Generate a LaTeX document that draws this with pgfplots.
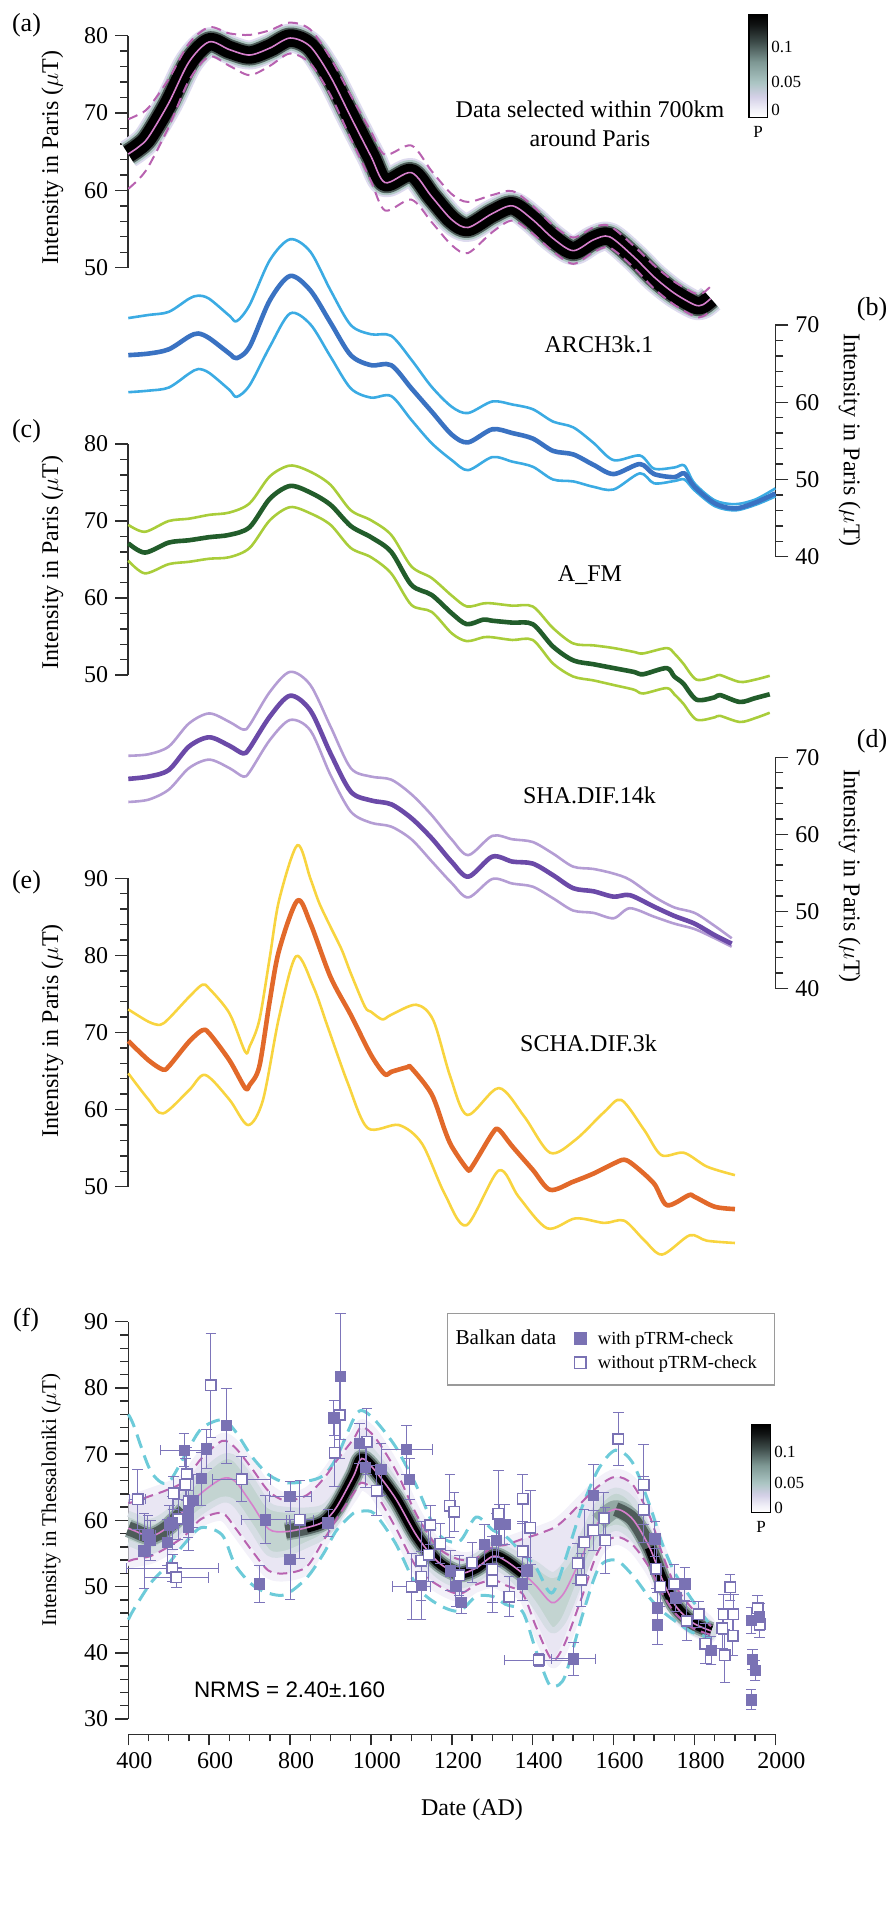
\documentclass[border=0pt]{standalone}
\usepackage{pgfplots}
\usepackage{pgfplotstable}
\pgfplotsset{compat=1.18}
\usepackage{fontspec}
\setmainfont{Liberation Serif}
\newfontfamily\sansfont{Liberation Sans}

\definecolor{axc}{HTML}{2E2E2E}
\definecolor{pinkm}{HTML}{D67FCC}
\definecolor{magd}{HTML}{B862B0}
\definecolor{cyand}{HTML}{6DCBD9}
\definecolor{dlav}{HTML}{DEDBEF}
\definecolor{dteal}{HTML}{AFC6C3}
\definecolor{dgrey}{HTML}{4E5C59}
\definecolor{flav}{HTML}{E9E6F3}
\definecolor{flavE}{HTML}{F3F1F9}
\definecolor{fteal}{HTML}{C3D4D1}
\definecolor{ftealE}{HTML}{D6DDE4}
\definecolor{fmid}{HTML}{93A8A4}
\definecolor{archL}{HTML}{3BABE3}
\definecolor{archD}{HTML}{3A72C2}
\definecolor{afmL}{HTML}{A9CD3A}
\definecolor{afmD}{HTML}{225D2B}
\definecolor{shaL}{HTML}{B49DD4}
\definecolor{shaD}{HTML}{6B4AA8}
\definecolor{schaL}{HTML}{F8D43F}
\definecolor{schaD}{HTML}{E2692A}
\definecolor{ptc}{HTML}{7A72B4}
\definecolor{errc}{HTML}{7D75BA}
\definecolor{legb}{HTML}{9A9A9A}
\definecolor{cb1}{HTML}{F1F0F8}
\definecolor{cb2}{HTML}{D4D0E7}
\definecolor{cb3}{HTML}{ABC5C3}
\definecolor{cb4}{HTML}{7E9894}
\definecolor{cb5}{HTML}{3C4A48}
\definecolor{cb6}{HTML}{121515}

\pgfdeclareverticalshading{pdens}{100bp}{color(0bp)=(white); color(25bp)=(white); color(29bp)=(cb1); color(35bp)=(cb2); color(42bp)=(cb3); color(52bp)=(cb4); color(62bp)=(cb5); color(70bp)=(cb6); color(75bp)=(black); color(100bp)=(black)}

% (a) density model, Paris
\pgfplotstableread{
yr   m    u    l
400  64.7 69.2 60.2
425  65.6 69.8 61.4
450  66.9 70.7 63.1
500  71.3 74.4 68.2
550  76.6 79.0 74.2
600  79.2 81.1 77.3
650  78.2 80.3 76.1
700  77.5 80.1 74.9
750  78.4 80.7 76.1
800  79.7 81.7 77.7
850  78.6 80.8 76.4
900  74.7 77.1 72.3
950  69.5 72.3 66.7
1000 64.4 67.6 61.2
1035 61.0 64.6 57.4
1100 62.3 65.8 58.8
1150 59.2 62.5 55.9
1200 56.2 59.5 52.9
1240 55.2 58.5 51.9
1300 57.0 59.4 54.6
1350 58.0 59.9 56.1
1400 56.2 58.0 54.4
1450 53.8 55.5 52.1
1500 52.2 53.9 50.5
1550 53.6 55.2 52.0
1590 54.0 55.4 52.6
1650 51.4 52.8 50.0
1700 48.8 50.3 47.3
1750 46.7 48.2 45.2
1800 45.2 46.7 43.7
1820 45.2 46.7 43.7
1840 46.0 47.6 44.4
}\tabA

% (b) ARCH3k.1
\pgfplotstableread{
yr   m     u     l
400  66.1  70.9  61.3
450  66.3  71.3  61.5
500  66.85 71.7  61.9
550  68.5  73.4  63.7
573  68.9  73.8  64.3
600  68.3  73.4  63.8
650  66.3  71.2  61.6
668  65.7  70.5  60.7
700  67.2  72.6  62.2
750  73.2  78.4  67.2
800  76.35 81.1  71.5
850  74.5  79.5  70.1
900  70.3  74.5  65.9
950  66.1  70.0  61.8
1000 64.8  68.8  60.6
1050 64.8  68.6  60.8
1100 61.8  65.5  57.7
1150 58.8  62.0  54.7
1200 55.8  59.4  52.5
1240 54.8  58.6  51.2
1300 56.5  60.1  52.9
1350 56.0  59.7  52.3
1400 55.3  59.1  51.65
1450 53.7  57.5  50.0
1500 53.25 56.75 49.75
1550 51.9  54.75 49.05
1600 50.7  52.5  48.7
1665 52.0  53.1  50.8
1700 50.7  51.4  49.5
1750 50.3  51.55 49.8
1775 50.8  51.8  50.0
1800 49.05 49.5  48.6
1850 46.9  47.3  46.55
1900 46.25 46.8  46.0
1950 47.0  47.4  46.7
2000 48.2  48.85 47.8
}\tabB

% (c) A_FM
\pgfplotstableread{
yr   m     u     l
400  67.1  69.5  64.85
441  65.9  68.6  63.2
500  67.2  70.0  64.4
550  67.5  70.3  64.7
600  67.9  70.8  65.1
650  68.2  71.1  65.3
700  69.2  72.3  66.5
750  72.9  75.8  70.1
800  74.55 77.2  71.8
850  73.7  76.4  71.0
900  72.1  74.7  69.5
950  69.35 71.4  66.5
1000 67.9  70.1  65.3
1050 66.0  68.2  63.2
1100 61.7  64.1  59.1
1150 60.4  62.6  58.2
1200 58.0  60.3  55.4
1237 56.6  58.9  54.4
1278 57.2  59.3  54.9
1300 57.05 59.3  54.9
1350 56.8  59.0  54.55
1400 56.6  58.9  54.55
1450 53.7  56.1  51.5
1500 51.9  54.1  49.8
1550 51.4  53.85 49.3
1600 50.9  53.5  48.7
1650 50.4  53.0  48.1
1673 50.1  52.8  47.6
1731 50.9  53.5  48.3
1750 49.8  52.8  47.5
1772 48.9  51.5  46.3
1805 46.8  49.4  44.2
1850 47.1  49.8  44.5
1863 47.4  50.0  44.7
1912 46.5  49.1  43.9
1950 47.0  49.4  44.4
1986 47.5  49.9  45.1
}\tabC

% (d) SHA.DIF.14k
\pgfplotstableread{
yr   m     u     l
400  67.2  70.2  64.2
450  67.5  70.4  64.5
500  68.35 71.4  65.8
550  71.4  74.4  68.6
600  72.6  75.7  69.7
650  71.5  74.6  68.6
684  70.5  73.6  67.5
700  71.2  74.2  68.1
750  75.3  78.5  72.25
800  78.0  81.1  74.85
850  76.1  79.4  73.5
900  70.5  74.0  67.7
950  65.55 68.6  62.95
1000 64.4  67.5  61.5
1050 63.9  67.1  61.0
1100 62.1  65.2  59.35
1150 59.5  62.5  56.5
1200 56.4  59.3  53.65
1241 54.5  57.3  51.8
1300 57.1  59.8  54.2
1350 56.45 59.35 53.6
1400 56.2  59.0  53.2
1450 54.7  57.5  51.7
1500 53.0  55.8  50.1
1550 52.6  55.5  49.8
1600 51.9  54.9  49.1
1640 52.1  54.1  50.4
1700 50.6  51.9  49.3
1750 49.4  50.5  48.4
1800 48.4  49.8  47.7
1850 46.9  48.1  46.5
1892 45.8  46.5  45.4
}\tabD

% (e) SCHA.DIF.3k
\pgfplotstableread{
yr   m
400  68.9
450  66.4
485  65.2
500  65.6
550  68.8
583  70.3
600  69.9
650  66.4
689  62.8
700  63.2
724  65.6
750  74.2
773  80.7
818  87.1
850  84.2
900  77.2
950  72.3
1000 67.1
1034 64.6
1050 64.9
1090 65.5
1100 65.4
1150 62.0
1182 57.4
1200 55.2
1238 52.3
1250 52.6
1300 56.9
1316 57.4
1350 55.2
1400 52.2
1443 49.6
1500 50.65
1550 51.7
1600 53.0
1626 53.5
1650 52.8
1700 50.4
1732 47.6
1786 48.9
1800 48.7
1850 47.4
1900 47.1
}\tabEm
\pgfplotstableread{
yr   u
400  73.0
450  71.4
479  71.0
500  71.8
550  74.6
583  76.2
600  75.7
650  72.5
689  67.5
700  68.2
724  71.6
750  79.8
773  87.2
818  94.3
850  90.0
872  86.8
900  83.7
928  80.7
950  77.7
985  73.35
1000 72.7
1028 71.7
1050 72.3
1112 73.6
1154 71.6
1196 64.3
1238 59.3
1316 62.8
1379 59.1
1443 54.4
1506 56.1
1577 59.7
1619 61.25
1675 57.4
1718 54.1
1774 54.4
1831 52.6
1900 51.5
}\tabEu
\pgfplotstableread{
yr   l
400  64.7
450  61.3
486  59.5
550  62.5
590  64.5
650  61.3
696  58.0
733  61.25
773  72.05
815  79.9
858  75.9
893  70.75
943  63.4
992  57.6
1069 58.0
1126 55.6
1182 49.1
1236 45.0
1316 52.1
1365 48.7
1436 44.6
1506 45.9
1577 45.3
1626 45.6
1675 43.1
1720 41.2
1788 43.7
1830 43.0
1900 42.7
}\tabEl

% (f) Thessaloniki model: mean, 95% band (magenta), outer envelope (cyan)
\pgfplotstableread{
yr   m     mu    ml    cu    cl
400  58.8  62.6  53.8  76.0  45.0
413  58.5  62.8  54.1  74.4  46.5
455  57.6  63.7  54.6  67.5  50.5
496  58.9  64.6  55.9  65.6  53.2
538  61.5  65.9  57.6  69.6  56.4
580  64.1  69.3  60.2  73.8  58.9
632  66.3  72.0  61.1  75.2  57.8
664  65.9  71.0  58.9  73.5  53.3
706  62.4  67.8  55.4  69.6  50.3
747  58.7  64.4  52.4  66.9  49.0
789  58.3  63.0  52.0  65.7  48.8
841  58.9  63.8  53.0  65.9  51.3
883  59.8  66.3  57.0  66.8  55.0
915  62.0  69.0  60.2  69.5  58.5
957  66.7  72.3  64.1  75.3  61.1
977  69.35 74.1  65.7  76.6  61.4
1009 67.6  72.6  64.3  75.2  61.0
1061 63.3  67.6  58.9  71.1  56.5
1114 57.6  60.7  52.8  65.0  50.0
1166 53.7  55.9  50.2  58.0  47.3
1218 52.0  54.1  48.9  56.8  46.3
1260 52.8  54.3  50.3  60.5  48.5
1302 54.6  56.0  51.0  58.5  48.5
1333 53.9  56.3  50.2  57.6  47.3
1375 52.0  57.2  48.9  55.0  46.2
1407 50.2  57.8  44.1  53.0  40.5
1438 48.0  58.5  39.8  49.4  35.5
1454 47.6  58.9  38.9  49.5  34.9
1480 49.3  60.2  41.5  54.0  36.5
1522 54.6  62.8  48.5  62.0  45.5
1563 59.8  65.2  55.5  67.8  52.8
1605 61.7  66.6  57.5  70.6  54.0
1647 60.2  65.4  56.3  68.7  51.7
1689 55.9  60.65 52.8  62.3  48.3
1720 51.1  55.0  49.0  56.5  46.3
1752 47.2  50.2  46.0  52.0  44.8
1794 44.6  46.7  43.8  48.0  43.1
1841 43.3  44.0  42.7  44.0  42.3
}\tabF

% (f) outer probability region (upper edge forward, lower edge back)
\pgfplotstableread{
yr   v
400  63.2
413  63.4
455  64.3
496  65.2
538  66.5
580  69.9
632  72.6
664  71.6
706  68.4
747  65.0
789  63.6
841  64.4
883  66.9
915  69.6
957  72.9
977  74.7
1009 73.2
1061 68.2
1114 61.3
1166 56.5
1218 54.7
1260 54.9
1302 56.6
1333 56.9
1375 57.8
1407 58.4
1438 59.1
1454 59.5
1480 60.8
1522 63.4
1563 65.8
1605 67.2
1647 66.0
1689 61.25
1720 55.6
1752 50.8
1794 47.3
1841 44.6
1841 42.1
1794 43.2
1752 45.4
1720 48.4
1689 52.2
1647 55.7
1605 56.9
1563 54.9
1522 47.9
1480 40.9
1454 38.3
1438 39.2
1407 43.5
1375 48.3
1333 49.6
1302 50.4
1260 49.7
1218 48.3
1166 49.6
1114 52.2
1061 58.3
1009 63.7
977  65.1
957  63.5
915  59.6
883  56.4
841  52.4
789  51.4
747  51.8
706  54.8
664  58.3
632  60.5
580  59.6
538  57.0
496  55.3
455  54.0
413  53.5
400  53.2
}\tabFlav

% (f) higher probability region
\pgfplotstableread{
yr   v
400  61.0
413  60.7
455  59.8
496  61.1
538  63.9
580  66.9
632  69.5
664  69.3
706  66.0
747  62.3
789  61.6
841  61.5
883  62.0
915  64.2
957  68.9
977  71.75
1009 70.0
1061 65.7
1114 59.9
1166 55.7
1218 53.8
1260 54.6
1302 56.4
1333 55.7
1375 54.4
1407 53.4
1438 52.0
1454 51.8
1480 53.3
1522 57.6
1563 62.6
1605 64.5
1647 63.0
1689 58.1
1720 52.9
1752 48.8
1794 46.0
1841 44.3
1841 42.3
1794 43.2
1752 45.6
1720 49.3
1689 53.7
1647 57.4
1605 58.9
1563 57.0
1522 51.6
1480 45.3
1454 43.4
1438 44.0
1407 47.0
1375 49.6
1333 52.1
1302 52.8
1260 51.0
1218 50.2
1166 51.7
1114 55.3
1061 60.9
1009 65.2
977  66.95
957  64.5
915  59.8
883  57.6
841  56.3
789  55.0
747  55.1
706  58.8
664  62.5
632  63.1
580  61.3
538  59.1
496  56.7
455  55.4
413  56.3
400  56.6
}\tabFteal

% Balkan data with pTRM-check: date, intensity, date error, intensity error
\pgfplotstableread{
x    y     ex  ey
439  55.4  0   5.7
448  57.8  20  3
455  57.0  0   3
496  56.7  0   3.5
502  59.3  0   3
509  59.6  0   4
538  70.6  58  2.5
548  60.5  0   3
549  59.0  0   3.5
549  61.5  0   3
560  63.0  0   4
580  66.3  0   4
593  70.8  0   3
643  74.3  0   5.7
724  50.4  0   2.8
739  60.1  60  3.6
800  63.6  52  2.3
800  54.1  0   6.1
894  59.6  0   2
908  75.5  0   2.6
925  81.7  0   9.5
972  71.6  0   3
986  68.0  0   3
1025 67.7  0   3.9
1088 70.7  63  3.7
1095 66.2  0   3.1
1124 50.2  0   5.1
1197 52.4  0   3
1210 50.0  0   3
1224 47.6  0   1.6
1281 56.4  0   3
1310 57.0  0   4
1318 59.4  0   3
1331 59.4  0   3
1375 50.4  0   2.5
1386 52.4  0   2
1501 39.1  55  2.5
1550 63.8  0   4.6
1702 57.2  0   2.6
1708 46.8  0   2.3
1708 44.2  0   3
1754 48.3  0   2
1776 50.4  0   2.5
1841 40.4  0   2.1
1940 44.9  0   2
1961 45.4  0   2
1943 39.0  0   1.5
1950 37.3  0   1.5
1940 32.9  0   1.5
}\tabP

% Balkan data without pTRM-check
\pgfplotstableread{
x    y     ex  ey
423  63.2  20  4.5
509  52.8  113 2
519  51.4  80  1.5
512  64.1  0   2.5
523  60.2  0   3
541  65.4  0   4
544  67.0  0   4
549  62.9  0   4
604  80.4  0   7.8
680  66.2  71  3.4
824  60.1  34  5.9
910  70.2  0   5
923  75.9  0   6.5
990  71.9  0   5
1014 64.5  0   3.8
1101 50.0  47  5
1124 53.9  0   6
1124 51.5  0   2
1143 54.8  0   4
1147 59.3  0   3
1171 56.5  0   3
1195 62.2  0   4.8
1206 61.3  0   3
1218 51.7  0   3
1250 53.6  0   3
1300 50.9  0   4.8
1300 52.6  0   5
1315 61.0  0   6.6
1342 48.5  0   3
1375 63.3  0   3.7
1375 55.3  0   4.5
1394 58.9  0   5.6
1415 38.9  86  1
1511 53.5  0   3
1520 51.0  0   4
1527 56.7  0   5
1550 58.5  0   3
1576 60.3  0   4
1579 57.0  0   5
1612 72.3  0   4
1674 65.4  0   6
1674 61.6  0   5
1705 52.7  0   3
1715 50.0  0   3
1750 50.4  0   3
1781 44.8  0   3
1810 45.8  0   2
1827 41.4  0   3
1872 45.8  0   3
1869 43.7  0   3
1875 39.6  0   4
1888 49.9  0   2
1896 45.8  0   3
1895 42.6  0   3
1956 46.7  0   2
1961 44.3  0   2
}\tabO

\pgfplotsset{
  panel/.style={
    scale only axis, width=323.55pt, xmin=400, xmax=2000, clip=false,
    anchor=south west, axis x line=none,
    tick align=outside, major tick length=6.5pt, minor tick length=4pt,
    minor y tick num=4,
    axis line style={axc, line width=0.8pt},
    tick style={axc, line width=0.7pt},
    tick label style={font=\fontsize{12}{14}\selectfont},
    /pgf/number format/assume math mode=true,
    /pgf/number format/1000 sep={},
  },
  leftp/.style={panel, axis y line*=left},
  rightp/.style={panel, axis y line*=right},
  mline/.style={smooth, line width=2.3pt, line join=round},
  bline/.style={smooth, line width=1.3pt, line join=round},
}

\begin{document}
\begin{tikzpicture}
\useasboundingbox (0pt,0pt) rectangle (445.5pt,-955pt);

% ---------------- (a)
\begin{axis}[leftp, height=116pt, ymin=50, ymax=80, ytick={50,60,70,80}, at={(64.15pt,-133.85pt)}]
\addplot[dlav, line width=14.5pt, smooth, line join=round] table[x=yr,y=m] {\tabA};
\addplot[dteal, line width=12.5pt, smooth, line join=round] table[x=yr,y=m] {\tabA};
\addplot[dgrey, line width=10.5pt, smooth, line join=round] table[x=yr,y=m] {\tabA};
\addplot[black, line width=8.7pt, smooth, line join=round] table[x=yr,y=m] {\tabA};
\addplot[magd, line width=1pt, dash pattern=on 5pt off 3pt, smooth] table[x=yr,y=u] {\tabA};
\addplot[magd, line width=1pt, dash pattern=on 5pt off 3pt, smooth] table[x=yr,y=l] {\tabA};
\addplot[pinkm, line width=0.8pt, smooth] table[x=yr,y=m] {\tabA};
\end{axis}

% ---------------- (b)
\begin{axis}[rightp, height=115.85pt, ymin=40, ymax=70, ytick={40,50,60,70}, at={(64.15pt,-278.35pt)}]
\addplot[archL, bline] table[x=yr,y=u] {\tabB};
\addplot[archL, bline] table[x=yr,y=l] {\tabB};
\addplot[archD, mline] table[x=yr,y=m] {\tabB};
\end{axis}

% ---------------- (c)
\begin{axis}[leftp, height=115.5pt, ymin=50, ymax=80, ytick={50,60,70,80}, at={(64.15pt,-337.5pt)}]
\addplot[afmL, bline] table[x=yr,y=u] {\tabC};
\addplot[afmL, bline] table[x=yr,y=l] {\tabC};
\addplot[afmD, mline] table[x=yr,y=m] {\tabC};
\end{axis}

% ---------------- (d)
\begin{axis}[rightp, height=115.5pt, ymin=40, ymax=70, ytick={40,50,60,70}, at={(64.15pt,-494.15pt)}]
\addplot[shaL, bline] table[x=yr,y=u] {\tabD};
\addplot[shaL, bline] table[x=yr,y=l] {\tabD};
\addplot[shaD, mline] table[x=yr,y=m] {\tabD};
\end{axis}

% ---------------- (e)
\begin{axis}[leftp, height=154.2pt, ymin=50, ymax=90, ytick={50,60,70,80,90}, at={(64.15pt,-593.35pt)}]
\addplot[schaL, bline] table[x=yr,y=u] {\tabEu};
\addplot[schaL, bline] table[x=yr,y=l] {\tabEl};
\addplot[schaD, mline] table[x=yr,y=m] {\tabEm};
\end{axis}

% ---------------- (f)
\begin{axis}[leftp, height=198.65pt, ymin=30, ymax=90, ytick={30,40,...,90}, at={(64.15pt,-859.5pt)},
  legend columns=2, legend cell align=left,
  legend style={draw=none, fill=none, at={(axis description cs:0.4865,0.9275)}, anchor=west,
    font=\fontsize{9.2}{11}\selectfont, row sep=0pt, inner sep=0pt,
    nodes={font=\fontsize{9.2}{11}\selectfont, inner sep=0.5pt, text height=8.7pt, text depth=2.6pt},
    /tikz/every odd column/.append style={column sep=5.5pt},
    /tikz/every even column/.append style={column sep=8.6pt}},
  ]
\addplot[fill=flav, draw=flavE, line width=4pt, line join=round, smooth, tension=0.5, forget plot] table[x=yr,y=v] {\tabFlav};
\addplot[fill=fteal, draw=ftealE, line width=3pt, line join=round, smooth, tension=0.5, forget plot] table[x=yr,y=v] {\tabFteal};
\addplot[fmid, line width=9pt, smooth, line join=round, restrict x to domain=400:560, forget plot] table[x=yr,y=m] {\tabF};
\addplot[fmid, line width=9pt, smooth, line join=round, restrict x to domain=780:1400, forget plot] table[x=yr,y=m] {\tabF};
\addplot[fmid, line width=9pt, smooth, line join=round, restrict x to domain=1560:1841, forget plot] table[x=yr,y=m] {\tabF};
\addplot[dgrey, line width=7pt, smooth, line join=round, restrict x to domain=400:560, forget plot] table[x=yr,y=m] {\tabF};
\addplot[dgrey, line width=7pt, smooth, line join=round, restrict x to domain=780:1400, forget plot] table[x=yr,y=m] {\tabF};
\addplot[dgrey, line width=7pt, smooth, line join=round, restrict x to domain=1580:1841, forget plot] table[x=yr,y=m] {\tabF};
\addplot[black, line width=5pt, smooth, line join=round, restrict x to domain=830:1380, forget plot] table[x=yr,y=m] {\tabF};
\addplot[black, line width=5pt, smooth, line join=round, restrict x to domain=1680:1841, forget plot] table[x=yr,y=m] {\tabF};
\addplot[cyand, line width=1.5pt, dash pattern=on 7pt off 4pt, smooth, forget plot] table[x=yr,y=cu] {\tabF};
\addplot[cyand, line width=1.5pt, dash pattern=on 7pt off 4pt, smooth, forget plot] table[x=yr,y=cl] {\tabF};
\addplot[magd, line width=1pt, dash pattern=on 5pt off 3pt, smooth, forget plot] table[x=yr,y=mu] {\tabF};
\addplot[magd, line width=1pt, dash pattern=on 5pt off 3pt, smooth, forget plot] table[x=yr,y=ml] {\tabF};
\addplot[pinkm, line width=0.8pt, smooth, forget plot] table[x=yr,y=m] {\tabF};
% data
\addplot[only marks, mark=square*, mark size=2.6pt, draw=ptc, mark options={fill=white, draw=ptc, line width=0.8pt}, forget plot,
  error bars/.cd, x dir=both, x explicit, y dir=both, y explicit,
  error bar style={line width=0.5pt, errc}]
  table[x=x, y=y, x error=ex, y error=ey] {\tabO};
\addplot[only marks, mark=square*, mark size=2.6pt, draw=ptc, mark options={fill=ptc, draw=ptc}, forget plot,
  error bars/.cd, x dir=both, x explicit, y dir=both, y explicit,
  error bar style={line width=0.5pt, errc}]
  table[x=x, y=y, x error=ex, y error=ey] {\tabP};
% legend
\addlegendimage{empty legend}\addlegendentry{\fontsize{10.6}{12}\selectfont Balkan data}
\addlegendimage{only marks, mark=square*, mark size=2.9pt, ptc, mark options={fill=ptc}}\addlegendentry{with pTRM-check}
\addlegendimage{empty legend}\addlegendentry{}
\addlegendimage{only marks, mark=square*, mark size=2.9pt, ptc, mark options={fill=white, line width=0.8pt}}\addlegendentry{without pTRM-check}
\end{axis}

% date axis
\begin{axis}[scale only axis, width=323.55pt, height=10pt, xmin=400, xmax=2000, ymin=0, ymax=1,
  at={(64.15pt,-867.15pt)}, anchor=south west, axis y line=none, axis x line*=bottom,
  xtick={400,600,...,2000}, minor x tick num=3, tick align=outside,
  major tick length=5.5pt, minor tick length=3.5pt,
  axis line style={axc, line width=0.8pt}, tick style={axc, line width=0.7pt},
  tick label style={font=\fontsize{12}{14}\selectfont},
  xticklabel style={xshift=3pt},
  /pgf/number format/assume math mode=true, /pgf/number format/1000 sep={}]
\addplot[draw=none] coordinates {(400,0.5) (2000,0.5)};
\end{axis}

% colour scales
\shade[shading=pdens] (374.5pt,-58.65pt) rectangle (383.65pt,-7.5pt);
\draw[black, line width=0.6pt] (374.5pt,-58.65pt) rectangle (383.65pt,-7.5pt);
\shade[shading=pdens] (375.7pt,-756.35pt) rectangle (385.4pt,-712.5pt);
\draw[black, line width=0.6pt] (375.7pt,-756.35pt) rectangle (385.4pt,-712.5pt);
\begin{scope}[every node/.style={font=\fontsize{8.5}{10}\selectfont, inner sep=0pt}]
\node[anchor=west] at (385.5pt,-23.35pt) {0.1};
\node[anchor=west] at (385.5pt,-40.85pt) {0.05};
\node[anchor=west] at (385.5pt,-55pt) {0};
\node at (379pt,-65.85pt) {P};
\node[anchor=west] at (387pt,-725.85pt) {0.1};
\node[anchor=west] at (387pt,-741.35pt) {0.05};
\node[anchor=west] at (387pt,-754.15pt) {0};
\node at (380.5pt,-763.35pt) {P};
\end{scope}

% legend frame
\draw[legb, line width=0.6pt] (223.75pt,-656.65pt) rectangle (387.1pt,-692.5pt);

% panel letters
\begin{scope}[every node/.style={font=\fontsize{13}{15}\selectfont}]
\node at (13.25pt,-12.5pt) {(a)};
\node at (436pt,-154.5pt) {(b)};
\node at (13.25pt,-215.5pt) {(c)};
\node at (436pt,-370.5pt) {(d)};
\node at (13.25pt,-441pt) {(e)};
\node at (13pt,-660pt) {(f)};
\end{scope}

% axis titles
\begin{scope}[every node/.style={font=\fontsize{12}{14}\selectfont}]
\node[rotate=90] at (26.25pt,-78.75pt) {Intensity in Paris ($\mu$T)};
\node[rotate=90] at (26.25pt,-281.25pt) {Intensity in Paris ($\mu$T)};
\node[rotate=90] at (26.25pt,-515.5pt) {Intensity in Paris ($\mu$T)};
\node[rotate=-90] at (424.75pt,-220pt) {Intensity in Paris ($\mu$T)};
\node[rotate=-90] at (424.75pt,-438pt) {Intensity in Paris ($\mu$T)};
\node at (295pt,-54.65pt) {Data selected within 700km};
\node at (295pt,-69.15pt) {around Paris};
\node at (299.5pt,-172pt) {ARCH3k.1};
\node at (295pt,-287.75pt) {A\_FM};
\node at (294.75pt,-397.5pt) {SHA.DIF.14k};
\node at (294.3pt,-521.5pt) {SCHA.DIF.3k};
\node at (236pt,-905pt) {Date (AD)};
\end{scope}
\node[rotate=90, font=\fontsize{10.5}{12}\selectfont] at (25.5pt,-750pt) {Intensity in Thessaloniki ($\mu$T)};
\node[anchor=west, font=\sansfont\fontsize{11.2}{13}\selectfont] at (93.5pt,-845pt) {NRMS = 2.40±.160};
\end{tikzpicture}
\end{document}
